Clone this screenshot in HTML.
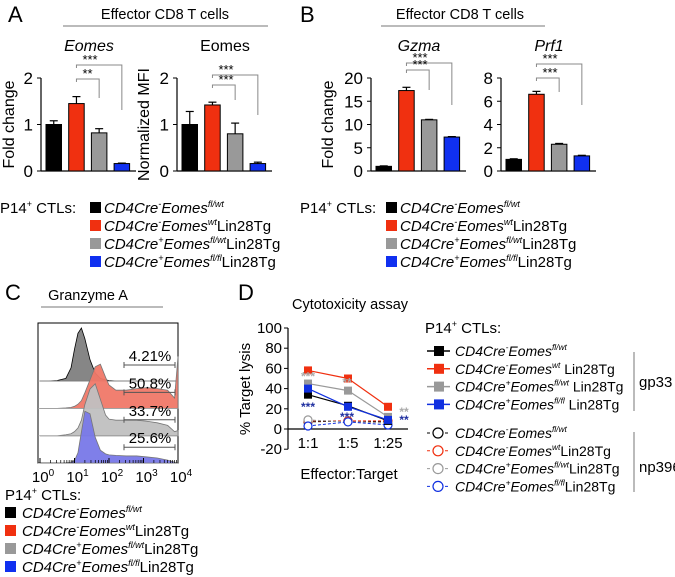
<!DOCTYPE html>
<html><head><meta charset="utf-8"><style>
body{margin:0;background:#fff}
svg{display:block;font-family:"Liberation Sans",Arial,sans-serif}
</style></head><body>
<svg id="fig" width="675" height="577" viewBox="0 0 675 577" xmlns="http://www.w3.org/2000/svg">
<g font-size="22"><text x="8" y="22">A</text><text x="300" y="22">B</text><text x="5" y="300">C</text><text x="238" y="300">D</text></g>
<g font-size="14.5">
<text x="165" y="19" text-anchor="middle">Effector CD8 T cells</text>
<line x1="63" y1="26" x2="268" y2="26" stroke="#777"/>
<text x="460" y="19" text-anchor="middle">Effector CD8 T cells</text>
<line x1="381" y1="26" x2="545" y2="26" stroke="#777"/>
<text x="88" y="300" text-anchor="middle">Granzyme A</text>
<line x1="41" y1="307" x2="163" y2="307" stroke="#777"/>
<text x="350" y="309" text-anchor="middle">Cytotoxicity assay</text>
</g>
<g id="bars"></g><g id="hist"></g><g id="line"></g><g id="legends"></g>
</svg>
<script>
const NS='http://www.w3.org/2000/svg';
const svg=document.getElementById('fig');
function mk(tag,attrs,parent,txt){const e=document.createElementNS(NS,tag);for(const k in attrs)e.setAttribute(k,attrs[k]);if(txt!==undefined)e.textContent=txt;(parent||svg).appendChild(e);return e;}
const COLORS=['#000000','#f03010','#999999','#1030f0'];

// ---- bar chart data ----
const eomesFold=[1.0,1.45,0.82,0.16];
const eomesFoldErr=[0.08,0.15,0.09,0.01];
const eomesMFI=[1.0,1.42,0.8,0.16];
const eomesMFIErr=[0.28,0.06,0.23,0.03];
const gzmaFold=[1.0,17.3,11.0,7.3];
const gzmaFoldErr=[0.1,0.7,0.1,0.1];
const prf1Fold=[1.0,6.6,2.3,1.3];
const prf1FoldErr=[0.05,0.25,0.07,0.05];
const eomesTicks=[0,1,2];
const gzmaTicks=[0,5,10,15,20];
const prf1Ticks=[0,2,4,6,8];

const gB=document.getElementById('bars');
function barChart(o){
  const g=mk('g',{},gB);
  
  
  const y0=171,y1=78;
  const ys=v=>y0-(v-o.min)/(o.max-o.min)*(y0-y1);
  const bx=i=>o.ax+5+i*22.7;
  mk('line',{x1:o.ax,y1:y1,x2:o.ax,y2:y0,stroke:'#000','stroke-width':1.2},g);
  mk('line',{x1:o.ax,y1:y0,x2:o.ax+95,y2:y0,stroke:'#000','stroke-width':1.2},g);
  o.ticks.forEach(t=>{mk('line',{x1:o.ax-4,y1:ys(t),x2:o.ax,y2:ys(t),stroke:'#000'},g);
    const tl=mk('text',{x:o.ax-8,y:ys(t)+6,'text-anchor':'end','font-size':17},g,String(t));
    });
  o.vals.forEach((v,i)=>{
    const x=bx(i),w=15.5,c=x+w/2;
    mk('line',{x1:c,y1:ys(v),x2:c,y2:ys(v+o.err[i]),stroke:'#000','stroke-width':1.2},g);
    mk('line',{x1:c-4,y1:ys(v+o.err[i]),x2:c+4,y2:ys(v+o.err[i]),stroke:'#000','stroke-width':1.2},g);
    const r=mk('rect',{x:x,y:ys(v),width:w,height:ys(o.min)-ys(v),fill:COLORS[i],stroke:'#000','stroke-width':1},g);
    
  });
  const yt=mk('text',{transform:`translate(${o.ax-o.yo},${(y0+y1)/2}) rotate(-90)`,'text-anchor':'middle','font-size':16},g,o.ytitle);
  
  const tt=mk('text',{x:o.ax+48,y:51,'text-anchor':'middle','font-size':16,'font-style':o.ital?'italic':'normal'},g,o.title);
  
  const c=i=>bx(i)+7.75;
  o.br.forEach(b=>{
    mk('path',{d:`M${c(1)},${b[1]} V${b[0]} H${c(b[3])} V${b[2]}`,fill:'none',stroke:'#888'},g);
    mk('text',{x:c(1)+6,y:b[0]-1,'font-size':13},g,b[4]);
  });
}
barChart({name:'eomes-fold-chart',ax:41,yo:27,vals:eomesFold,err:eomesFoldErr,ticks:eomesTicks,min:0,max:2,ytitle:'Fold change',title:'Eomes',ital:true,
  br:[[65,68,110,3,'***'],[79,82,98,2,'**']]});
barChart({name:'eomes-mfi-chart',ax:177,yo:28,vals:eomesMFI,err:eomesMFIErr,ticks:eomesTicks,min:0,max:2,ytitle:'Normalized MFI',title:'Eomes',ital:false,
  br:[[75,78,115,3,'***'],[85,88,100,2,'***']]});
barChart({name:'gzma-chart',ax:371,yo:38,vals:gzmaFold,err:gzmaFoldErr,ticks:gzmaTicks,min:0,max:20,ytitle:'Fold change',title:'Gzma',ital:true,
  br:[[63,66,105,3,'***'],[70,73,90,2,'***']]});
barChart({name:'prf1-chart',ax:501,yo:38,vals:prf1Fold,err:prf1FoldErr,ticks:prf1Ticks,min:0,max:8,ytitle:'',title:'Prf1',ital:true,
  br:[[64,67,105,3,'***'],[78,81,92,2,'***']]});

// ---- histogram data (log10 bin centres, relative counts 0..1) ----
const histBins=[0,0.25,0.5,0.75,0.9,1.0,1.1,1.2,1.3,1.45,1.6,1.75,1.9,2.0,2.2,2.5,2.8,3.1,3.4,3.7,3.9,4.0];
const histBlack=[0,0,0.01,0.05,0.25,0.6,0.9,1.0,0.8,0.4,0.15,0.05,0.02,0.01,0,0,0,0,0,0,0,0];
const histRed=[0,0,0,0.01,0.02,0.04,0.08,0.15,0.3,0.55,0.8,0.85,0.6,0.45,0.35,0.35,0.38,0.4,0.38,0.35,0.2,1.0];
const histGray=[0,0,0,0.02,0.04,0.08,0.15,0.3,0.6,0.9,1.0,0.7,0.4,0.32,0.3,0.3,0.3,0.28,0.25,0.2,0.08,0.1];
const histBlue=[0,0,0,0.01,0.02,0.05,0.2,0.6,1.0,0.95,0.5,0.25,0.18,0.16,0.15,0.14,0.14,0.12,0.1,0.06,0.02,0];
const histPct=['4.21%','50.8%','33.7%','25.6%'];
const histTicks=[0,1,2,3,4];
const gH=document.getElementById('hist');
const hx=l=>40+l*34.5;
mk('rect',{x:38,y:323,width:140,height:140,fill:'none',stroke:'#000','stroke-width':1},gH);
const hs=[histBlack,histRed,histGray,histBlue];
const hFill=['#808080','#f07868','#c0c0c0','#7878e8'];
const hPeak=[53,52,52,52];
hs.forEach((h,r)=>{
  const base=381+r*27.4;
  let d=`M${hx(histBins[0])},${base}`;
  h.forEach((v,i)=>{d+=` L${hx(histBins[i])},${base-v*hPeak[r]}`;});
  d+=` L${hx(4)},${base} Z`;
  const p=mk('path',{d:d,fill:hFill[r],stroke:r==0?'#000':'#777','stroke-width':0.8,'fill-opacity':0.95},gH);
  
  
  mk('line',{x1:38,y1:base,x2:178,y2:base,stroke:'#999','stroke-width':0.7},gH);
  const gy=base-16;
  mk('path',{d:`M124,${gy-3}V${gy+3}M124,${gy}H175M175,${gy-3}V${gy+3}`,stroke:'#555',fill:'none'},gH);
  const t=mk('text',{x:150,y:gy-4,'text-anchor':'middle','font-size':15},gH,histPct[r]);
  
});
histTicks.forEach(t=>{
  mk('line',{x1:hx(t),y1:463,x2:hx(t),y2:458,stroke:'#000'},gH);
  for(let k=2;k<10&&t<4;k++){const lx=hx(t+Math.log10(k));mk('line',{x1:lx,y1:463,x2:lx,y2:460,stroke:'#000','stroke-width':0.7},gH);}
  const tx=mk('text',{x:hx(t)+3,y:482,'text-anchor':'middle','font-size':15},gH);
  
  tx.appendChild(document.createTextNode('10'));
  mk('tspan',{dy:-6,'font-size':10},tx,String(t));
});

// ---- cytotoxicity line chart ----
const ratios=['1:1','1:5','1:25'];
const gp33Black=[34,23,8];
const gp33Red=[58,50,22];
const gp33Gray=[45,38,12];
const gp33Blue=[40,22,9];
const npBlack=[7,8,7];
const npRed=[8,8,8];
const npGray=[9,7,6];
const npBlue=[3,7,4];
const lysisTicks=[-20,0,20,40,60,80,100];
const gL=document.getElementById('line');
const ly=v=>429-v*1.01;
const lx=i=>308+i*40;
mk('line',{x1:288,y1:ly(100),x2:288,y2:ly(-20),stroke:'#000','stroke-width':1.2},gL);
mk('line',{x1:288,y1:ly(0),x2:408,y2:ly(0),stroke:'#000','stroke-width':1.2},gL);
lysisTicks.forEach(t=>{mk('line',{x1:284,y1:ly(t),x2:288,y2:ly(t),stroke:'#000'},gL);
  const tl=mk('text',{x:282,y:ly(t)+5,'text-anchor':'end','font-size':15},gL,String(t));
  });
ratios.forEach((r,i)=>{const t=mk('text',{x:lx(i),y:448,'text-anchor':'middle','font-size':15},gL,r);
  });
const xt=mk('text',{x:349,y:479,'text-anchor':'middle','font-size':15},gL,'Effector:Target');

const yt=mk('text',{transform:'translate(250,389) rotate(-90)','text-anchor':'middle','font-size':15},gL,'% Target lysis');

const npS=[npBlack,npRed,npGray,npBlue],gpS=[gp33Black,gp33Red,gp33Gray,gp33Blue];
const LC=['#000','#f03010','#999','#1030e0'];
npS.forEach((s,k)=>{
  const pl=mk('polyline',{points:s.map((v,i)=>lx(i)+','+ly(v)).join(' '),fill:'none',stroke:LC[k],'stroke-dasharray':'3,2'},gL);
  
  s.forEach((v,i)=>{const c=mk('circle',{cx:lx(i),cy:ly(v),r:4,fill:'#fff',stroke:LC[k],'stroke-width':1.2},gL);
    });
});
gpS.forEach((s,k)=>{
  const pl=mk('polyline',{points:s.map((v,i)=>lx(i)+','+ly(v)).join(' '),fill:'none',stroke:LC[k],'stroke-width':1.2},gL);
  
  s.forEach((v,i)=>{const c=mk('rect',{x:lx(i)-4,y:ly(v)-4,width:8,height:8,fill:LC[k]},gL);
    });
});
[[308,ly(50)+2,'***','#aaa'],[347,ly(44)+2,'**','#aaa'],[308,ly(22)+4,'***','#2030a0'],[347,ly(12)+4,'***','#2030a0'],[404,ly(17)+4,'**','#aaa'],[404,ly(9)+4,'**','#2030a0']]
  .forEach(s=>mk('text',{x:s[0],y:s[1],'text-anchor':'middle','font-size':12,fill:s[3],'font-weight':'bold'},gL,s[2]));

// ---- legends ----
const gG=document.getElementById('legends');
const genos=[['CD4Cre','-','Eomes','fl/wt',''],['CD4Cre','-','Eomes','wt','Lin28Tg'],['CD4Cre','+','Eomes','fl/wt','Lin28Tg'],['CD4Cre','+','Eomes','fl/fl','Lin28Tg']];
function geno(x,y,g,fs,sp){
  const t=mk('text',{x:x,y:y,'font-size':fs},gG);
  
  mk('tspan',{'font-style':'italic'},t,g[0]);
  mk('tspan',{'font-style':'italic',dy:-6,'font-size':fs*0.6},t,g[1]);
  mk('tspan',{'font-style':'italic',dy:6},t,g[2]);
  mk('tspan',{'font-style':'italic',dy:-6,'font-size':fs*0.6},t,g[3]);
  mk('tspan',{dy:6},t,(sp&&g[4]?' ':'')+g[4]);
}
function hdr(x,y,fs){const t=mk('text',{x:x,y:y,'font-size':fs},gG);
  
  t.appendChild(document.createTextNode('P14'));mk('tspan',{dy:-6,'font-size':fs*0.6},t,'+');mk('tspan',{dy:6},t,' CTLs:');}
function sqLegend(hx0,hy,sx,tx,y0,dy,fs){
  hdr(hx0,hy,fs);
  genos.forEach((g,i)=>{const r=mk('rect',{x:sx,y:y0+i*dy-11,width:11,height:11,fill:COLORS[i]},gG);
    
    geno(tx,y0+i*dy,g,fs,false);});
}
sqLegend(0,213,90,104,213,18,15);
sqLegend(300,213,386,400,213,18,15);
sqLegend(5,500,5,22,518,18,15);
hdr(425,333,15);
genos.forEach((g,i)=>{const y=356+i*17.8;
  mk('line',{x1:427,y1:y-5,x2:450,y2:y-5,stroke:LC[i],'stroke-width':1.5},gG);
  mk('rect',{x:434,y:y-10,width:10,height:10,fill:LC[i]},gG);
  geno(455,y,g,14,true);
  const y2=438+i*17.8;
  mk('line',{x1:427,y1:y2-5,x2:450,y2:y2-5,stroke:LC[i],'stroke-dasharray':'3,3'},gG);
  mk('circle',{cx:438,cy:y2-5,r:5,fill:'#fff',stroke:LC[i],'stroke-width':1.2},gG);
  geno(455,y2,g,14,false);
});
mk('line',{x1:634,y1:352,x2:634,y2:411,stroke:'#777'},gG);
mk('text',{x:639,y:387,'font-size':15},gG,'gp33');
mk('line',{x1:634,y1:432,x2:634,y2:492,stroke:'#777'},gG);
mk('text',{x:639,y:472,'font-size':15},gG,'np396');
</script>
</body></html>
